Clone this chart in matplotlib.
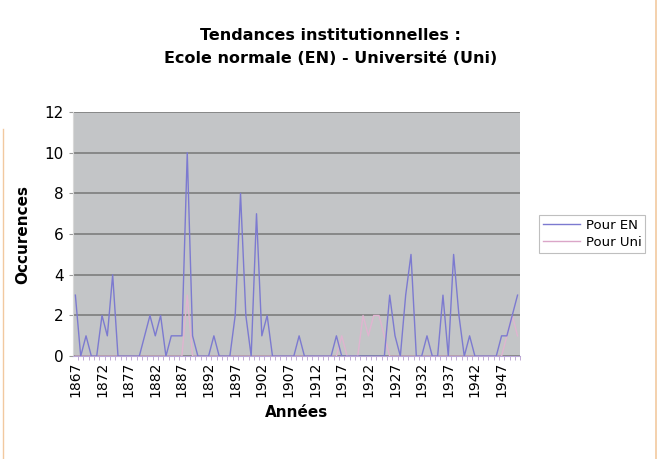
import matplotlib.pyplot as plt
from matplotlib.lines import Line2D

# Années (catégories) de 1867 à 1950
annees = list(range(1867, 1951))

# Occurrences "Pour EN"
pour_en = [3, 0, 1, 0, 0, 2, 1, 4, 0, 0,      # 1867-1876
           0, 0, 0, 1, 2, 1, 2, 0, 1, 1,      # 1877-1886
           1, 10, 1, 0, 0, 0, 1, 0, 0, 0,     # 1887-1896
           2, 8, 2, 0, 7, 1, 2, 0, 0, 0,      # 1897-1906
           0, 0, 1, 0, 0, 0, 0, 0, 0, 1,      # 1907-1916
           0, 0, 0, 0, 0, 0, 0, 0, 0, 3,      # 1917-1926
           1, 0, 3, 5, 0, 0, 1, 0, 0, 3,      # 1927-1936
           0, 5, 2, 0, 1, 0, 0, 0, 0, 0,      # 1937-1946
           1, 1, 2, 3]                        # 1947-1950

# Occurrences "Pour Uni" (presque toujours cachées derrière EN)
pour_uni = [0, 0, 0, 0, 0, 0, 0, 0, 0, 0,
            0, 0, 0, 0, 0, 0, 0, 0, 0, 0,
            0, 3, 0, 0, 0, 0, 0, 0, 0, 0,
            0, 0, 0, 0, 0, 0, 0, 0, 0, 0,
            0, 0, 0, 0, 0, 0, 0, 0, 0, 0,
            1, 0, 0, 0, 2, 1, 2, 2, 1, 0,
            0, 0, 0, 0, 0, 0, 0, 0, 0, 0,
            0, 0, 0, 0, 0, 0, 0, 0, 0, 0,
            0, 1, 2, 1]

etiquettes_x = list(range(1867, 1951, 5))

fig = plt.figure(figsize=(6.61, 4.59), dpi=100)
ax = fig.add_axes([0.110, 0.224, 0.677, 0.532])
ax.set_facecolor('#c3c5c7')

ax.plot(annees, pour_uni, color='#e0b4d0', lw=1.0, label='Pour Uni', zorder=3)
ax.plot(annees, pour_en, color='#7c7ad0', lw=1.0, label='Pour EN', zorder=4)

ax.set_xlim(1866.5, 1950.5)
ax.set_ylim(0, 12)
ax.set_yticks(range(0, 13, 2))
ax.set_xticks(etiquettes_x)
ax.set_xticklabels([str(a) for a in etiquettes_x], rotation=90, fontsize=10)
ax.set_xticks([a + 0.5 for a in annees], minor=True)
ax.tick_params(axis='x', which='minor', length=3, color='#b59ccf')
ax.tick_params(axis='x', which='major', length=0, pad=4)
ax.tick_params(axis='y', labelsize=11, length=3, color='#999999')
ax.grid(axis='y', color='#7d7d7d', lw=1.2)
ax.set_axisbelow(True)
for s in ['top', 'right']:
    ax.spines[s].set_visible(False)
ax.spines['left'].set_color('#d8d8d8')
ax.spines['bottom'].set_color('#b8a6d6')

ax.set_xlabel('Années', fontsize=11, fontweight='bold', labelpad=6)
ax.set_ylabel('Occurences', fontsize=11, fontweight='bold', labelpad=10)
fig.text(0.5, 0.912, 'Tendances institutionnelles :', ha='center', fontsize=11.5, fontweight='bold')
fig.text(0.5, 0.862, 'Ecole normale (EN) - Université (Uni)', ha='center', fontsize=11.5, fontweight='bold')

poignees = [Line2D([], [], color='#7c7ad0', lw=1), Line2D([], [], color='#dba6c8', lw=1)]
leg = fig.legend(poignees, ['Pour EN', 'Pour Uni'], loc='center left',
                 bbox_to_anchor=(0.806, 0.49), frameon=True, fancybox=False,
                 fontsize=9.5, handlelength=2.8, handletextpad=0.4,
                 labelspacing=0.3, borderpad=0.3)
leg.get_frame().set_edgecolor('#b0b0b0')
leg.get_frame().set_linewidth(0.8)

# bordure orange de la page
fig.add_artist(Line2D([0.992, 0.992], [0.0, 1.0], color='#f2c9a0', lw=1.2))
fig.add_artist(Line2D([0.004, 0.004], [0.0, 0.72], color='#f2c9a0', lw=1.0))

plt.savefig('out.png', dpi=100)
